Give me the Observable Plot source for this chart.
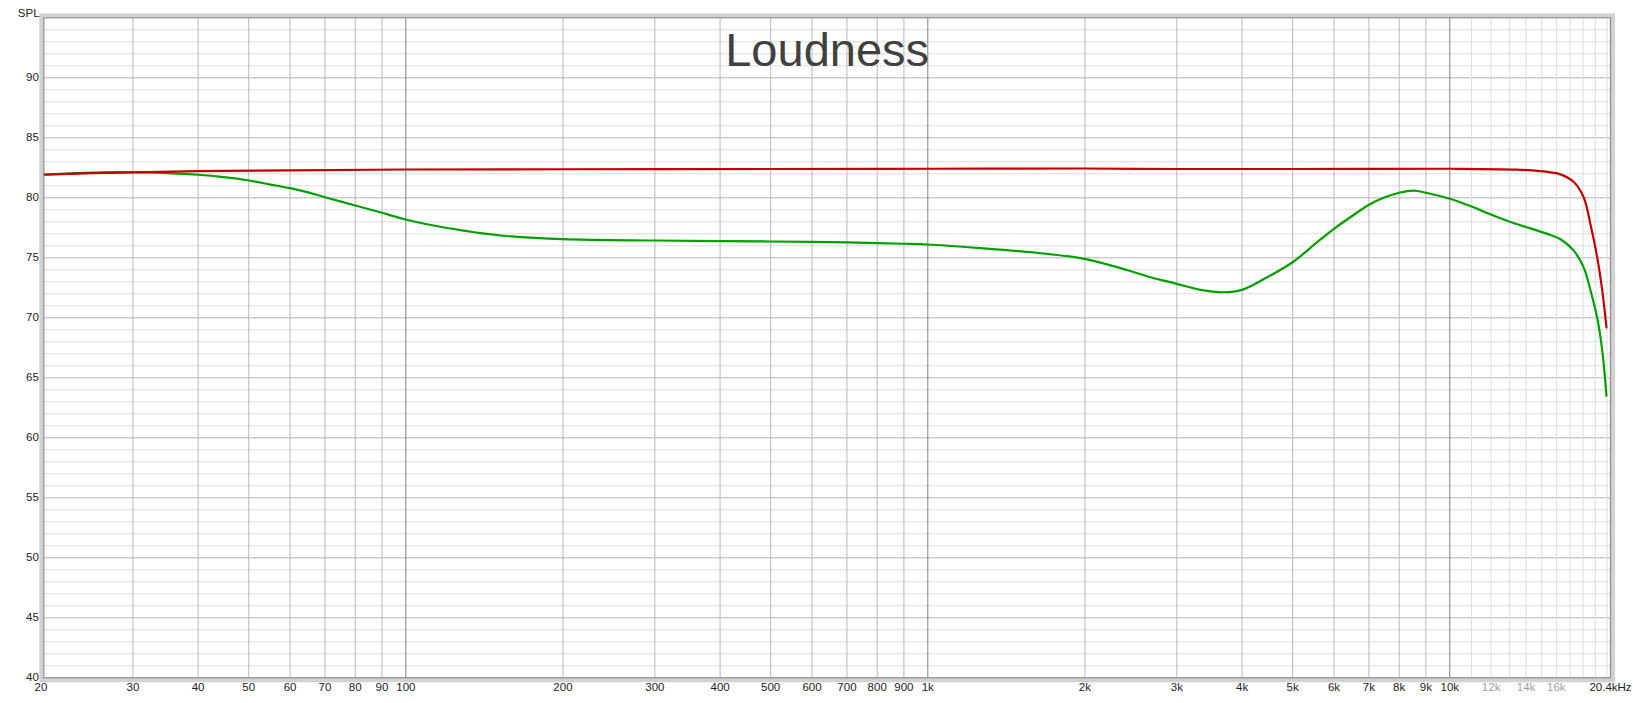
<!DOCTYPE html>
<html>
<head>
<meta charset="utf-8">
<script src="https://cdn.jsdelivr.net/npm/d3@7"></script>
<script src="https://cdn.jsdelivr.net/npm/@observablehq/plot@0.6"></script>
<style>
  html, body { margin: 0; padding: 0; background: #fff; }
  svg { display: block; }
</style>
</head>
<body>
<div id="chart"></div>
<script>
// ---- Data ----
const redFreq = [20, 25, 30, 40, 60, 100, 200, 500, 1000, 2000, 3000, 5000, 10000, 13400, 14900, 15600, 16300, 17300, 18050, 18600, 19160, 19590, 19960];
const redSPL  = [81.92, 82.05, 82.12, 82.22, 82.28, 82.36, 82.38, 82.4, 82.42, 82.44, 82.4, 82.4, 82.42, 82.35, 82.22, 82.12, 81.95, 81.3, 80.05, 77.8, 75.05, 72.3, 69.2];

const greenFreq = [20, 24.2, 30, 34.9, 40, 44.8, 50, 55.1, 60, 64.7, 70, 80, 90, 100, 113, 131, 139, 152, 200, 300, 400, 500, 600, 700, 800, 900, 1000, 1262, 1570, 1960, 2306, 2672, 3000, 3330, 3690, 4000, 4468, 5000, 5570, 6000, 6450, 7000, 7470, 8000, 8530, 9000, 10000, 11040, 12000, 13070, 14270, 15600, 16300, 17280, 18050, 18600, 19160, 19590, 19960];
const greenSPL  = [81.92, 82.08, 82.13, 82.05, 81.92, 81.72, 81.44, 81.1, 80.8, 80.47, 80.05, 79.36, 78.75, 78.19, 77.69, 77.22, 77.05, 76.86, 76.55, 76.44, 76.39, 76.36, 76.33, 76.28, 76.22, 76.17, 76.11, 75.81, 75.47, 74.97, 74.22, 73.38, 72.83, 72.33, 72.13, 72.33, 73.38, 74.63, 76.3, 77.42, 78.38, 79.42, 80.0, 80.42, 80.6, 80.42, 79.92, 79.25, 78.6, 77.98, 77.45, 76.9, 76.55, 75.6, 74.2, 72.3, 70.0, 67.3, 63.5];

// Axis ticks / gridlines
const yMajor = [40, 45, 50, 55, 60, 65, 70, 75, 80, 85, 90];
const yMinor = [41,42,43,44,46,47,48,49,51,52,53,54,56,57,58,59,61,62,63,64,66,67,68,69,71,72,73,74,76,77,78,79,81,82,83,84,86,87,88,89,91,92,93,94];
const xDecade = [100, 1000, 10000];
const xMid = [30,40,50,60,70,80,90,200,300,400,500,600,700,800,900,2000,3000,4000,5000,6000,7000,8000,9000];
const xLight = [11000,12000,13000,14000,15000,16000,17000,18000,19000,20000];
const xTickValues = [20,30,40,50,60,70,80,90,100,200,300,400,500,600,700,800,900,1000,2000,3000,4000,5000,6000,7000,8000,9000,10000];
const xTickLabels = ["20","30","40","50","60","70","80","90","100","200","300","400","500","600","700","800","900","1k","2k","3k","4k","5k","6k","7k","8k","9k","10k"];
const xLightTickValues = [12000, 14000, 16000];
const xLightTickLabels = ["12k", "14k", "16k"];
const xEndValue = 20320;
const xEndLabel = "20.4kHz";

const red = redFreq.map((f, i) => ({f, v: redSPL[i]}));
const green = greenFreq.map((f, i) => ({f, v: greenSPL[i]}));

const chart = Plot.plot({
  width: 1633,
  height: 703,
  marginLeft: 43.3,
  marginRight: 23,
  marginTop: 17.3,
  marginBottom: 25.7,
  x: {type: "log", domain: [20.25, 20320], axis: null},
  y: {domain: [40, 95], axis: null},
  style: {fontFamily: "'Liberation Sans', Arial, sans-serif", fontSize: "11.5px", background: "#fff", color: "#222"},
  marks: [
    Plot.ruleY(yMinor, {y: d => d, stroke: "#dcdcdc", strokeWidth: 1}),
    Plot.ruleY(yMajor, {y: d => d, stroke: "#b4b4b4", strokeWidth: 1}),
    Plot.ruleX(xLight, {x: d => d, stroke: "#dcdcdc", strokeWidth: 1}),
    Plot.ruleX(xMid, {x: d => d, stroke: "#b8b8b8", strokeWidth: 1}),
    Plot.ruleX(xDecade, {x: d => d, stroke: "#7f7f7f", strokeWidth: 1}),
    Plot.text(["Loudness"], {frameAnchor: "top", dy: 47.7, lineAnchor: "bottom", fontSize: 47, fill: "#404040", text: d => d}),
    Plot.line(green, {x: "f", y: "v", stroke: "#00a000", strokeWidth: 2.2, curve: "catmull-rom"}),
    Plot.line(red, {x: "f", y: "v", stroke: "#c40000", strokeWidth: 2.2, curve: "catmull-rom"}),
    Plot.frame({inset: -2.5, stroke: "#d2d2d2", strokeWidth: 4}),
    Plot.frame({stroke: "#8c8c8c", strokeWidth: 1.2}),
    Plot.text(yMajor, {y: d => d, text: d => String(d), frameAnchor: "left", textAnchor: "end", dx: -5, fill: "#222"}),
    Plot.text(xTickValues, {x: d => d, text: (d, i) => xTickLabels[i], frameAnchor: "bottom", dy: 13.4, fill: "#222"}),
    Plot.text(xLightTickValues, {x: d => d, text: (d, i) => xLightTickLabels[i], frameAnchor: "bottom", dy: 13.4, fill: "#a0a0a0"}),
    Plot.text([xEndValue], {x: d => d, text: () => xEndLabel, frameAnchor: "bottom", dy: 13.4, fill: "#222"}),
    Plot.text(["SPL"], {frameAnchor: "top-left", dx: -26, dy: -9, textAnchor: "start", text: d => d, fill: "#222"})
  ]
});
document.getElementById("chart").appendChild(chart);
</script>
</body>
</html>
